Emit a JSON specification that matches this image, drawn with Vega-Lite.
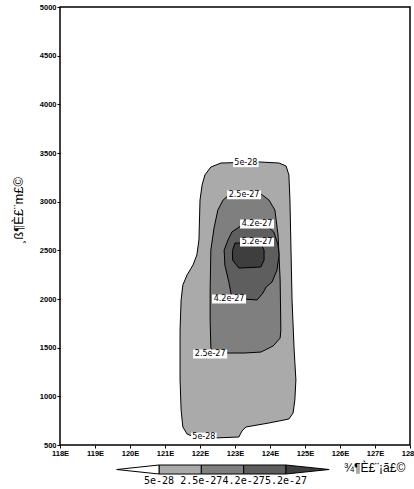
{
  "$schema": "https://vega.github.io/schema/vega-lite/v6.json",
  "padding": {"left": 11, "top": 2, "right": 0, "bottom": 0},
  "background": "white",
  "bounds": "flush",
  "spacing": 20,
  "config": {
    "view": {"stroke": "black", "strokeWidth": 1.5},
    "axis": {"grid": false, "domain": false, "tickColor": "black", "labelColor": "black", "labelFont": "Liberation Sans", "labelFontWeight": "bold", "labelFontSize": 7.5, "tickSize": 3}
  },
  "datasets": {
    "contours": [
      {"level": 1, "i": 0, "lon": 122.14, "h": 3274}, {"level": 1, "i": 1, "lon": 122.31, "h": 3356}, {"level": 1, "i": 2, "lon": 122.60, "h": 3397}, {"level": 1, "i": 3, "lon": 123.69, "h": 3408}, {"level": 1, "i": 4, "lon": 124.26, "h": 3397}, {"level": 1, "i": 5, "lon": 124.46, "h": 3366}, {"level": 1, "i": 6, "lon": 124.54, "h": 3274}, {"level": 1, "i": 7, "lon": 124.57, "h": 3017}, {"level": 1, "i": 8, "lon": 124.60, "h": 2503}, {"level": 1, "i": 9, "lon": 124.63, "h": 1990}, {"level": 1, "i": 10, "lon": 124.69, "h": 1476}, {"level": 1, "i": 11, "lon": 124.74, "h": 1168}, {"level": 1, "i": 12, "lon": 124.71, "h": 962}, {"level": 1, "i": 13, "lon": 124.66, "h": 829}, {"level": 1, "i": 14, "lon": 124.54, "h": 767}, {"level": 1, "i": 15, "lon": 123.97, "h": 726}, {"level": 1, "i": 16, "lon": 123.31, "h": 685}, {"level": 1, "i": 17, "lon": 123.20, "h": 644}, {"level": 1, "i": 18, "lon": 123.11, "h": 582}, {"level": 1, "i": 19, "lon": 122.40, "h": 572}, {"level": 1, "i": 20, "lon": 121.91, "h": 572}, {"level": 1, "i": 21, "lon": 121.63, "h": 613}, {"level": 1, "i": 22, "lon": 121.51, "h": 685}, {"level": 1, "i": 23, "lon": 121.46, "h": 860}, {"level": 1, "i": 24, "lon": 121.43, "h": 1168}, {"level": 1, "i": 25, "lon": 121.43, "h": 1682}, {"level": 1, "i": 26, "lon": 121.46, "h": 1990}, {"level": 1, "i": 27, "lon": 121.51, "h": 2144}, {"level": 1, "i": 28, "lon": 121.63, "h": 2247}, {"level": 1, "i": 29, "lon": 121.80, "h": 2349}, {"level": 1, "i": 30, "lon": 121.91, "h": 2452}, {"level": 1, "i": 31, "lon": 121.97, "h": 2606}, {"level": 1, "i": 32, "lon": 122.00, "h": 3017}, {"level": 1, "i": 33, "lon": 122.06, "h": 3171},
      {"level": 2, "i": 0, "lon": 122.66, "h": 3017}, {"level": 2, "i": 1, "lon": 122.83, "h": 3069}, {"level": 2, "i": 2, "lon": 123.74, "h": 3079}, {"level": 2, "i": 3, "lon": 123.97, "h": 3017}, {"level": 2, "i": 4, "lon": 124.14, "h": 2914}, {"level": 2, "i": 5, "lon": 124.23, "h": 2658}, {"level": 2, "i": 6, "lon": 124.29, "h": 2195}, {"level": 2, "i": 7, "lon": 124.31, "h": 1682}, {"level": 2, "i": 8, "lon": 124.29, "h": 1599}, {"level": 2, "i": 9, "lon": 124.09, "h": 1517}, {"level": 2, "i": 10, "lon": 123.74, "h": 1455}, {"level": 2, "i": 11, "lon": 123.26, "h": 1445}, {"level": 2, "i": 12, "lon": 122.40, "h": 1445}, {"level": 2, "i": 13, "lon": 122.31, "h": 1497}, {"level": 2, "i": 14, "lon": 122.29, "h": 1784}, {"level": 2, "i": 15, "lon": 122.29, "h": 2092}, {"level": 2, "i": 16, "lon": 122.31, "h": 2503}, {"level": 2, "i": 17, "lon": 122.40, "h": 2729}, {"level": 2, "i": 18, "lon": 122.51, "h": 2914},
      {"level": 3, "i": 0, "lon": 123.20, "h": 2760}, {"level": 3, "i": 1, "lon": 123.74, "h": 2771}, {"level": 3, "i": 2, "lon": 123.91, "h": 2750}, {"level": 3, "i": 3, "lon": 124.11, "h": 2688}, {"level": 3, "i": 4, "lon": 124.23, "h": 2555}, {"level": 3, "i": 5, "lon": 124.26, "h": 2452}, {"level": 3, "i": 6, "lon": 124.20, "h": 2298}, {"level": 3, "i": 7, "lon": 124.06, "h": 2175}, {"level": 3, "i": 8, "lon": 123.89, "h": 2123}, {"level": 3, "i": 9, "lon": 123.80, "h": 2062}, {"level": 3, "i": 10, "lon": 123.63, "h": 1990}, {"level": 3, "i": 11, "lon": 122.91, "h": 2010}, {"level": 3, "i": 12, "lon": 122.83, "h": 2164}, {"level": 3, "i": 13, "lon": 122.71, "h": 2349}, {"level": 3, "i": 14, "lon": 122.69, "h": 2503}, {"level": 3, "i": 15, "lon": 122.80, "h": 2606}, {"level": 3, "i": 16, "lon": 122.91, "h": 2688},
      {"level": 4, "i": 0, "lon": 123.00, "h": 2575}, {"level": 4, "i": 1, "lon": 123.74, "h": 2575}, {"level": 4, "i": 2, "lon": 123.83, "h": 2500}, {"level": 4, "i": 3, "lon": 123.83, "h": 2400}, {"level": 4, "i": 4, "lon": 123.74, "h": 2329}, {"level": 4, "i": 5, "lon": 123.11, "h": 2318}, {"level": 4, "i": 6, "lon": 122.93, "h": 2400}, {"level": 4, "i": 7, "lon": 122.93, "h": 2500}
    ],
    "labels": [
      {"lon": 123.31, "h": 3400, "label": "5e-28"},
      {"lon": 122.11, "h": 582, "label": "5e-28"},
      {"lon": 123.26, "h": 3069, "label": "2.5e-27"},
      {"lon": 122.29, "h": 1435, "label": "2.5e-27"},
      {"lon": 123.63, "h": 2771, "label": "4.2e-27"},
      {"lon": 122.83, "h": 2000, "label": "4.2e-27"},
      {"lon": 123.63, "h": 2585, "label": "5.2e-27"}
    ],
    "bar": [
      {"x0": 1, "x1": 2, "level": 1},
      {"x0": 2, "x1": 3, "level": 2},
      {"x0": 3, "x1": 4, "level": 3}
    ],
    "tri": [
      {"side": "low", "i": 0, "x": 0, "y": 0.5}, {"side": "low", "i": 1, "x": 1, "y": 1}, {"side": "low", "i": 2, "x": 1, "y": 0},
      {"side": "high", "i": 0, "x": 4, "y": 0}, {"side": "high", "i": 1, "x": 4, "y": 1}, {"side": "high", "i": 2, "x": 5.02, "y": 0.5}
    ],
    "barlabels": [
      {"x": 1, "label": "5e-28"}, {"x": 2, "label": "2.5e-27"}, {"x": 3, "label": "4.2e-27"}, {"x": 4, "label": "5.2e-27"}
    ],
    "bartitle": [{"x": 5.37, "label": "¾­¶È£¨¡ã£©"}]
  },
  "vconcat": [
    {
      "width": 350,
      "height": 438,
      "data": {"name": "contours"},
      "encoding": {
        "x": {"field": "lon", "type": "quantitative", "scale": {"domain": [118, 128], "nice": false, "zero": false},
          "axis": {"values": [118, 119, 120, 121, 122, 123, 124, 125, 126, 127, 128], "labelExpr": "datum.value + 'E'", "title": null, "labelPadding": 1, "labelFlush": false}},
        "y": {"field": "h", "type": "quantitative", "scale": {"domain": [500, 5000], "nice": false, "zero": false},
          "axis": {"values": [500, 1000, 1500, 2000, 2500, 3000, 3500, 4000, 4500, 5000], "format": "d", "title": "¸ß¶È£¨m£©", "titleFont": "Liberation Sans", "titleFontSize": 13, "titleFontWeight": "normal", "titleColor": "black", "titleX": -38, "titleY": 203, "titleBaseline": "alphabetic", "labelPadding": 1, "labelFlush": false}},
        "order": {"field": "i", "type": "quantitative"}
      },
      "layer": [
        {"transform": [{"filter": "datum.level == 1"}], "mark": {"type": "line", "interpolate": "linear-closed", "fill": "#aaaaaa", "stroke": "black", "strokeWidth": 1}},
        {"transform": [{"filter": "datum.level == 2"}], "mark": {"type": "line", "interpolate": "linear-closed", "fill": "#7f7f7f", "stroke": "black", "strokeWidth": 1}},
        {"transform": [{"filter": "datum.level == 3"}], "mark": {"type": "line", "interpolate": "linear-closed", "fill": "#5e5e5e", "stroke": "black", "strokeWidth": 1}},
        {"transform": [{"filter": "datum.level == 4"}], "mark": {"type": "line", "interpolate": "linear-closed", "fill": "#3e3e3e", "stroke": "black", "strokeWidth": 1}},
        {
          "data": {"name": "labels"},
          "mark": {"type": "point", "filled": true, "fill": "white", "stroke": null, "opacity": 1, "size": 1156},
          "encoding": {
            "x": {"field": "lon", "type": "quantitative"},
            "y": {"field": "h", "type": "quantitative"},
            "order": null,
            "shape": {"condition": {"test": "length(datum.label) < 6", "value": "M-0.75,-0.26H0.75V0.26H-0.75Z"}, "value": "M-1,-0.26H1V0.26H-1Z"}
          }
        },
        {
          "data": {"name": "labels"},
          "mark": {"type": "text", "font": "DejaVu Sans", "fontSize": 8, "color": "black", "baseline": "middle", "align": "center"},
          "encoding": {
            "x": {"field": "lon", "type": "quantitative"},
            "y": {"field": "h", "type": "quantitative"},
            "order": null,
            "text": {"field": "label"}
          }
        }
      ]
    },
    {
      "width": 350,
      "height": 9,
      "view": {"stroke": null},
      "layer": [
        {
          "data": {"name": "bar"},
          "mark": {"type": "rect", "stroke": "black", "strokeWidth": 1},
          "encoding": {
            "x": {"field": "x0", "type": "quantitative", "scale": {"domain": [-1.339, 6.93], "nice": false, "zero": false}, "axis": null},
            "x2": {"field": "x1"},
            "y": {"datum": 0, "type": "quantitative", "scale": {"domain": [0, 1], "nice": false}, "axis": null},
            "y2": {"datum": 1},
            "fill": {"field": "level", "type": "ordinal", "scale": {"domain": [1, 2, 3], "range": ["#aaaaaa", "#7f7f7f", "#5e5e5e"]}, "legend": null}
          }
        },
        {
          "data": {"name": "tri"},
          "transform": [{"filter": "datum.side == 'low'"}],
          "mark": {"type": "line", "interpolate": "linear-closed", "fill": "white", "stroke": "black", "strokeWidth": 1},
          "encoding": {
            "x": {"field": "x", "type": "quantitative"},
            "y": {"field": "y", "type": "quantitative"},
            "order": {"field": "i", "type": "quantitative"}
          }
        },
        {
          "data": {"name": "tri"},
          "transform": [{"filter": "datum.side == 'high'"}],
          "mark": {"type": "line", "interpolate": "linear-closed", "fill": "#3e3e3e", "stroke": "black", "strokeWidth": 1},
          "encoding": {
            "x": {"field": "x", "type": "quantitative"},
            "y": {"field": "y", "type": "quantitative"},
            "order": {"field": "i", "type": "quantitative"}
          }
        },
        {
          "data": {"name": "barlabels"},
          "mark": {"type": "text", "font": "DejaVu Sans Mono", "fontSize": 10, "color": "black", "baseline": "top", "align": "center", "dy": 2},
          "encoding": {
            "x": {"field": "x", "type": "quantitative"},
            "y": {"datum": 0, "type": "quantitative"},
            "text": {"field": "label"}
          }
        },
        {
          "data": {"name": "bartitle"},
          "mark": {"type": "text", "font": "Liberation Sans", "fontSize": 12, "color": "black", "baseline": "alphabetic", "align": "left", "dy": 2},
          "encoding": {
            "x": {"field": "x", "type": "quantitative"},
            "y": {"datum": 0.5, "type": "quantitative"},
            "text": {"field": "label"}
          }
        }
      ]
    }
  ]
}
